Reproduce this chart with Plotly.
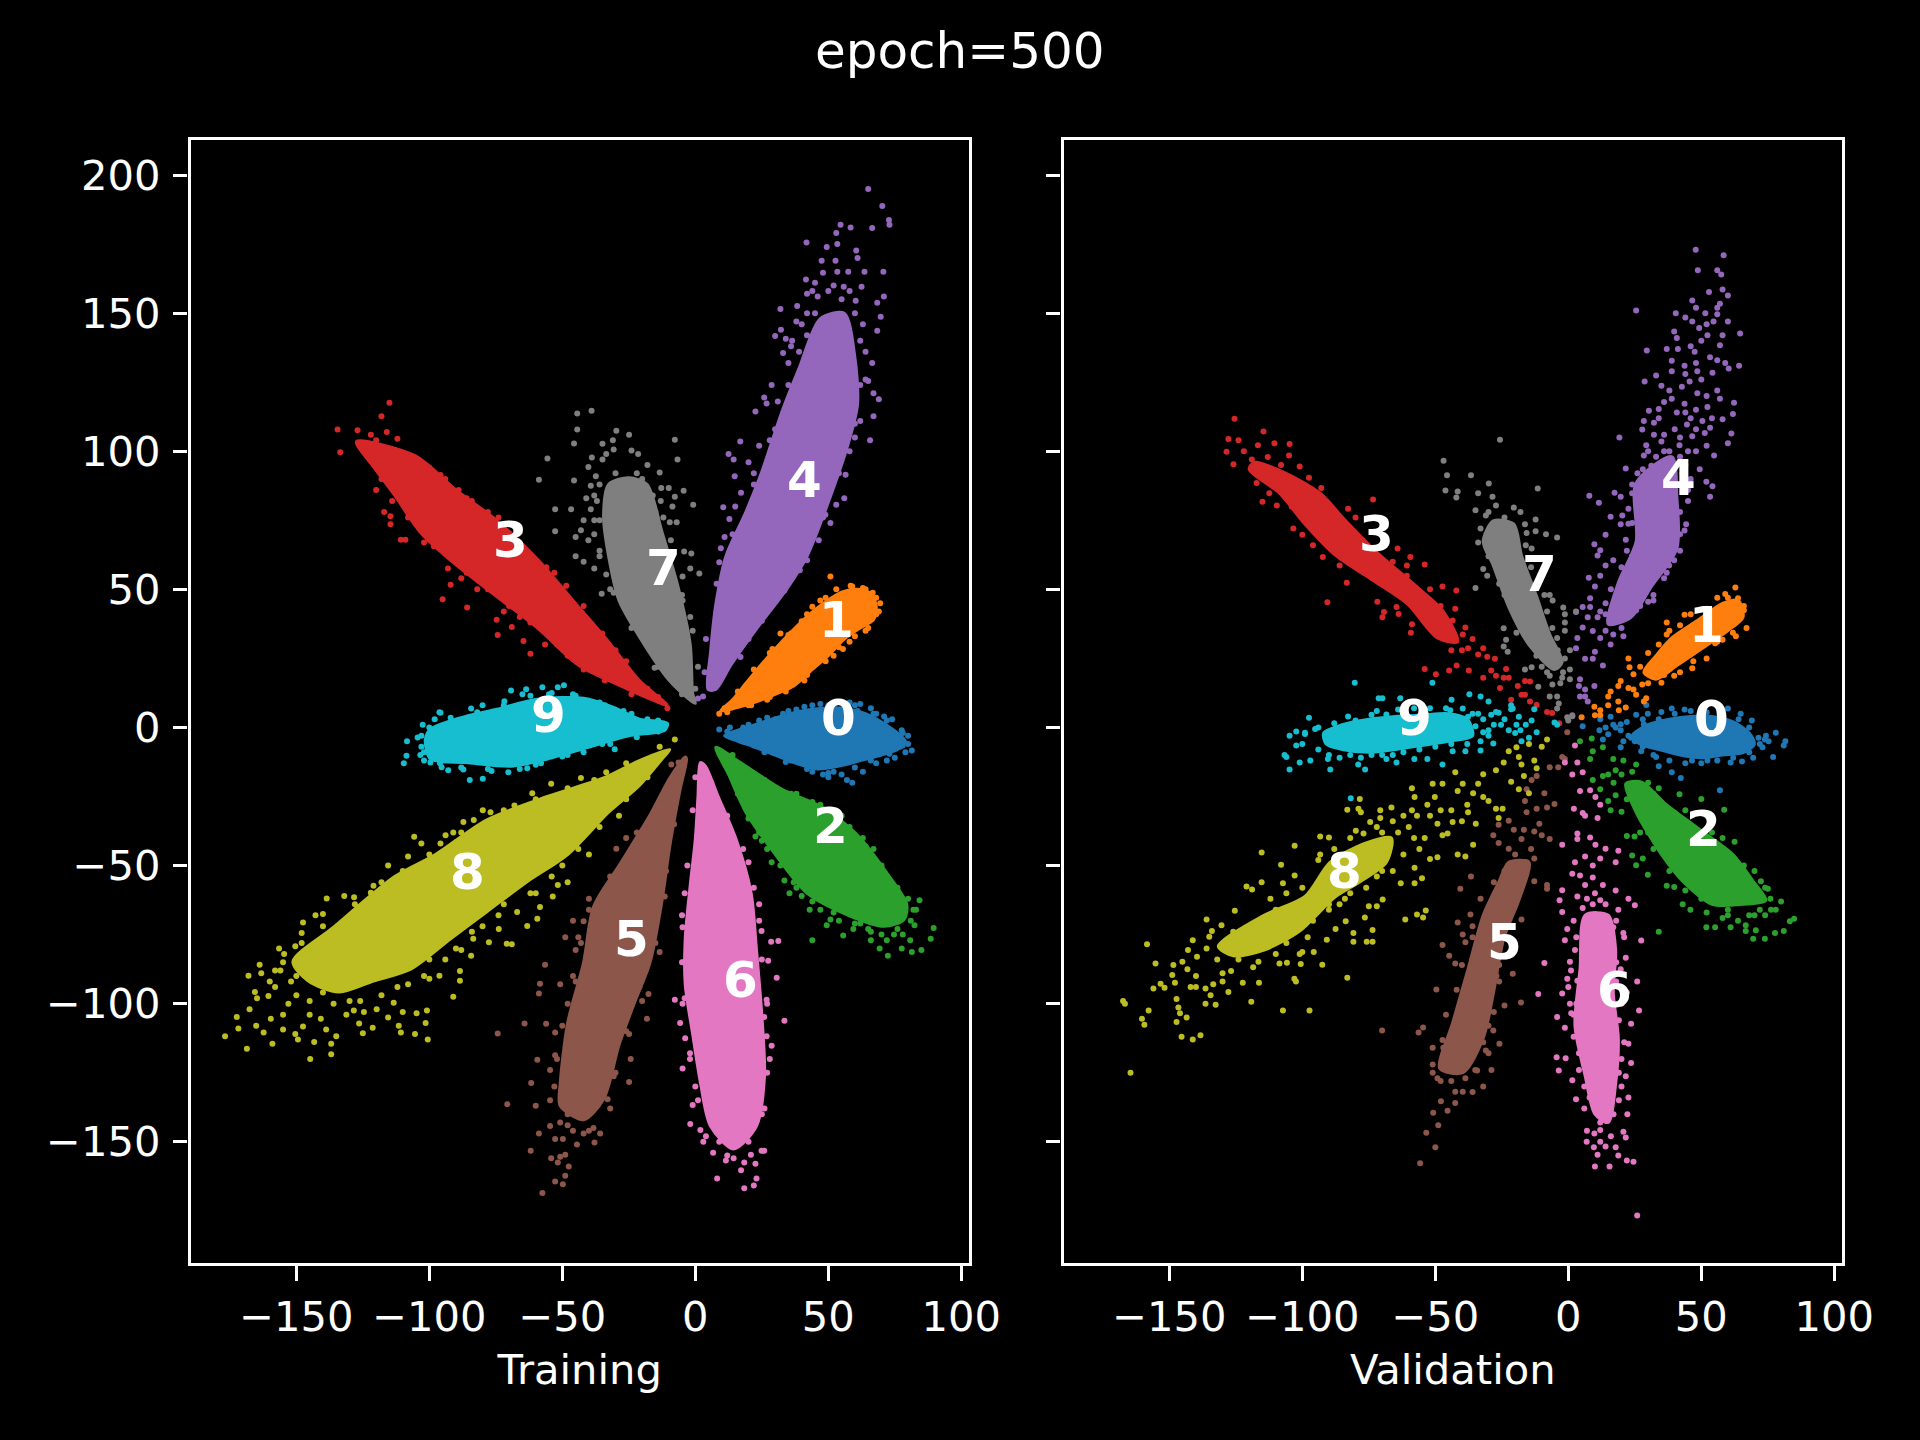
import plotly.graph_objects as go

class_labels = ["0","1","2","3","4","5","6","7","8","9"]
colors = ["#1f77b4","#ff7f0e","#2ca02c","#d62728","#9467bd","#8c564b","#e377c2","#7f7f7f","#bcbd22","#17becf"]
x_ticks = [-150,-100,-50,0,50,100]
x_tick_text = ["\u2212150","\u2212100","\u221250","0","50","100"]
y_ticks = [-150,-100,-50,0,50,100,150,200]
y_tick_text = ["\u2212150","\u2212100","\u221250","0","50","100","150","200"]
x_range = [-189.8,102.9]
y_range = [-193.9,212.7]

label_pos_train = [(54,3.5),(53,39),(50.7,-35.5),(-69.6,67.8),(41,89.6),(-24,-76.7),(17,-91.4),(-12,57.6),(-85.7,-52.3),(-55.3,4.4)]
label_pos_val = [(54,3),(52,37),(51,-36.8),(-72,70),(41.5,90.5),(-24,-77.6),(17.5,-95),(-11,55.4),(-84.3,-51.9),(-58,3.5)]

# ---------- Training: dense body outline and loose points ----------
train_0_core = [(11,-3),(16,-1),(24,1.5),(32,4),(40,6),(48,7),(56,7),(64,5),(70,2),(76,-2),(79,-5),(76,-8),(70,-10),(62,-12),(54,-14),(46,-15),(38,-13),(30,-10),(22,-7),(16,-5)]
train_0_pts = [(9,-0.7),(81.4,-8.3),(59,-20),(77.6,-1),(67,5),(61,6),(50,-18),(48,-17),(55,-17),(57,-19),(63,-16),(68,-13),(72,-12),(75,-11),(79,-9),(78,-6.5),(80,-3),(78,-2),(74,3),(71,4),(66,7),(62,8.5),(58,9),(53,9),(47,8.5),(41,7.5),(35,6),(27,3.5),(20,1),(13,0),(42,-15),(34,-12.5),(26,-9),(52,-16),(12,-1.5),(18,0),(22,-6.5),(30,3),(36,-12),(44,-16),(50,-16.5),(60,-14.5),(66,-12),(73,-9.5),(77,-7),(80,-6),(72,2.5),(68,5),(60,8),(50,8),(44,8),(38,6.5),(33,5),(24,2.5),(18,-4.5)]

train_1_core = [(9.5,6),(14,10),(19,16),(25,23),(31,29.5),(37,35.5),(43,41),(49,45.5),(55,49),(61,50),(66,48.5),(68,44),(67,39),(62,36),(56,32),(50,26),(44,21),(37,15),(30,12),(22,9),(15,7)]
train_1_pts = [(50.8,54.7),(49,47),(44,43.7),(32,34),(29,28.4),(69.5,45),(66.7,48.8),(58.4,51.3),(63,50.5),(55.5,28.4),(49,24),(41,17),(34,13),(27,10),(20,8),(12,5.5),(9,5),(16,13),(22,21),(28,27),(35,33.5),(40,38.5),(68,41),(64,35),(58,31),(52,26),(11,7),(17,11),(24,20),(30,26),(36,34),(42,41),(47,46),(53,50),(59,51),(64,50),(68,47),(69,42),(65,36),(60,33),(54,29),(47,25),(42,19),(35,15),(28,11),(21,8)]

train_2_core = [(7.7,-7.2),(17,-12.7),(32.6,-22.4),(48,-29),(61,-39),(73,-54),(79.5,-64),(78.5,-69.5),(71,-72),(57.5,-68),(42,-60),(29,-44.6),(19,-30.7),(12.5,-17)]
train_2_pts = [(89.6,-72.6),(88.5,-76.5),(84.3,-62.6),(85,-80.6),(81.4,-81.3),(72.4,-82.7),(69.3,-80),(66,-77),(44,-77),(55.6,-75.3),(59.4,-73),(49.4,-71.6),(50.8,-69.5),(43,-66),(35.4,-60),(33.5,-55.4),(28.7,-48.8),(22.6,-39.5),(67,-44),(82.4,-71.6),(80.8,-77),(77.6,-80),(74.7,-75),(83,-66),(81,-70),(76,-73),(70,-75),(65,-73),(62,-71),(54,-70),(47,-66),(40,-61),(38,-58),(25,-41),(63,-40),(55,-32),(47,-28),(38,-24),(10,-9),(14,-10),(20,-16),(26,-19),(36,-24),(44,-27),(52,-31),(58,-36),(64,-43),(70,-50),(76,-58),(80,-62),(82,-66),(16,-24),(20,-33),(24,-38),(27,-44),(32,-50),(37,-56),(44,-63),(52,-67),(60,-71),(66,-74),(72,-77),(78,-75)]

train_3_core = [(-127.4,103.5),(-105.4,98.4),(-90,86),(-74.7,75),(-59,60.5),(-46,46),(-32.6,31),(-21,17),(-10.5,8),(-15,9.5),(-28.7,15.3),(-44,22.6),(-59,35.7),(-76.6,48.8),(-92,60.5),(-103.4,70.7),(-113,84),(-120.7,94)]
train_3_pts = [(-115,117.6),(-118,112.7),(-134.5,107.9),(-133.5,99.6),(-127,107.6),(-116,107),(-112,104.5),(-120,86),(-117,78),(-114.6,76.5),(-114.6,73.6),(-110.7,68),(-109,68),(-102,67),(-98.3,65.6),(-93,57.6),(-92,51.7),(-95,46.4),(-85.8,43.4),(-74.3,33.5),(-74.7,39),(-69,36.4),(-64.6,31.3),(-62,26.7),(-56.5,30),(-48.5,51.3),(-59.4,59.8),(-74,76),(-89,86),(-95.8,91.4),(-10.5,7),(-122,106),(-124,103),(-120,104),(-108,97),(-102,94),(-84,82),(-78,78),(-68,68),(-53,56),(-42,44),(-30,28),(-88,54),(-82,50),(-72,42),(-66,40),(-54,33),(-48,26),(-42,21),(-36,20),(-125,102),(-121,100),(-116,101),(-110,99),(-100,94),(-94,90),(-86,83),(-80,77),(-72,72),(-64,64),(-56,58),(-50,50),(-40,38),(-35,34),(-26,24),(-18,14),(-14,11),(-118,90),(-114,82),(-108,76),(-100,68),(-94,63),(-86,56),(-78,50),(-70,44),(-62,38),(-52,30),(-46,25),(-34,17),(-24,12)]

train_4_core = [(4.8,13.8),(5.7,27),(7.7,44.5),(11.5,62),(19,78),(25,92.6),(32.6,114.4),(39,130),(47,148),(56,150),(60,134),(61,117),(57.5,102.8),(49.8,81),(42,62),(34.5,50.3),(23,35.7),(13.4,22.6),(7.7,13.8)]
train_4_pts = [(65,195),(70.3,188.8),(72.8,183.7),(73,182),(66.5,180.8),(58.4,181),(54.6,182),(41.8,175.6),(53,179),(53.4,175),(49.4,174),(60.5,172.7),(61,170),(47.5,169),(52.7,169),(63.6,165),(70.7,165),(48,164.6),(57.5,165),(53.4,165),(41.6,162.2),(45,161),(55.8,159.6),(62.5,159.6),(70.9,156),(68.4,153.8),(60.3,154.5),(42,157),(46,156),(38.3,152.6),(32,151.5),(69.7,148.7),(68.4,143.6),(32.2,144),(30,141.7),(34,140.7),(36.4,140),(33,135.6),(35,132),(64,136),(66.5,132),(65,125.4),(67,121),(69,118.8),(67,112.7),(65.7,104),(25.9,119.5),(28.7,124),(26.8,117.3),(22.6,114.4),(16.9,103.5),(12.5,99),(14.4,97),(14.8,91),(17.2,85),(10.5,79.7),(12.8,75.5),(11,69),(9.6,64.9),(9,59.8),(56.5,91.5),(56,83),(53,80.6),(48.9,77),(50.8,74),(46.4,67.8),(42,60.5),(39.3,56.9),(33.5,49.6),(25,38.6),(17,25.5),(2.9,11.2),(1,10.5),(50,158),(55,155),(60,150),(63,146),(42,150),(38,147),(64,126),(62,111),(60,105),(30,108),(24,102),(20,96),(22,88),(15,80),(44,158),(52,160),(58,158),(40,146),(36,138),(62,140),(62,124),(60,110),(28,104),(22,92),(14,70),(8,52),(4,32),(3.5,20),(6,14),(38,70),(44,68),(48,76),(54,92),(58,100),(28,45),(20,32),(42,142),(45,150),(39,136),(35,124),(31,118)]

train_5_core = [(-3.8,-10.7),(-9.6,-18.3),(-17.2,-32),(-28.7,-50),(-38.3,-65),(-42,-85),(-48,-107),(-50.8,-129),(-50.8,-137),(-42,-142),(-34.5,-134.6),(-28.7,-115),(-23,-100),(-17,-85),(-12.5,-62.6),(-9.6,-43),(-5.7,-22.4),(-3.3,-11.4)]
train_5_pts = [(-74.3,-110.8),(-70.7,-136.4),(-57.5,-168.6),(-49.8,-165.4),(-52.7,-164.4),(-48.9,-162.3),(-47.6,-159),(-61.9,-153.3),(-54.2,-156),(-50.8,-155.4),(-51.7,-157.5),(-48.9,-154.7),(-52.7,-149),(-49.8,-149),(-44.5,-151),(-37.9,-150.3),(-58.8,-147),(-54.6,-144.3),(-50.8,-143),(-35.8,-147),(-38.3,-145),(-60,-137),(-54.6,-135),(-61.7,-128.7),(-59.4,-120.3),(-54.6,-124),(-52.7,-118.7),(-64.2,-107.2),(-56.1,-107.3),(-52.7,-110.4),(-58.8,-96.3),(-58.4,-92.8),(-56.5,-85.9),(-50.8,-93),(-48.9,-76),(-46,-70),(-42,-70.2),(-45,-80.6),(-29.7,-43.9),(-18.2,-105.5),(-24.9,-128.4),(-24.3,-120),(-30.7,-126.3),(-33,-134.6),(-24.9,-111),(-20,-99),(-17.6,-96.5),(-13.4,-81.3),(-11.5,-61.2),(-6.3,-12.7),(-9,-13.4),(-46,-146),(-42,-147),(-48,-140),(-46,-90),(-44,-76),(-48,-100),(-40,-66),(-26,-40),(-7,-16),(-13,-26),(-22,-38),(-32,-54),(-40,-62),(-43,-78),(-45,-92),(-50,-108),(-52,-120),(-53,-130),(-48,-144),(-40,-146),(-32,-138),(-30,-125),(-26,-110),(-21,-94),(-15,-78),(-11,-52),(-8,-35)]

train_6_core = [(1.9,-12.7),(1,-25),(0,-40.4),(-1.9,-57),(-3.8,-76.5),(-3.8,-93),(-1,-111),(2,-129),(5.7,-144.3),(14.4,-152.6),(23,-144.3),(26,-126.3),(25,-104),(23,-80.6),(21,-60),(15.3,-40.4),(8.6,-25),(3.8,-14)]
train_6_pts = [(18.4,-166.8),(22,-165.8),(23,-163.3),(8.2,-163.3),(17.2,-160.3),(22.6,-158),(24.9,-153.3),(25.9,-153.3),(11.5,-156.8),(6.7,-154),(14.4,-156),(18.4,-157.5),(20.9,-154.7),(-1.9,-143.6),(1.9,-145.7),(-1,-136.7),(-4.8,-123.5),(28.7,-115.2),(33.5,-106.2),(26.8,-111.8),(25.9,-104.8),(30.6,-90.6),(26.8,-98.6),(27.4,-84.5),(31.2,-77.3),(28.5,-77.6),(24.9,-73.7),(20,-48.8),(-7.7,-98.6),(-4.8,-100),(-5.7,-107),(-3.8,-112.5),(-4.8,-72.3),(24,-64),(3,-150),(9,-150),(26,-138),(27,-125),(-2,-120),(0,-130),(-4.5,-85),(-4,-60),(0,-18),(-1,-30),(-3,-50),(-5,-68),(-5,-85),(-4,-98),(-2,-118),(1,-135),(4,-148),(12,-155),(20,-150),(25,-140),(28,-120),(27,-100),(25,-84),(24,-70),(22,-58),(18,-44),(12,-32),(6,-20)]

train_7_core = [(0,8.7),(-9.6,16.8),(-21,32.8),(-28.7,46),(-32.6,62),(-34.5,76.5),(-32.6,88),(-25,90.4),(-18.2,88),(-12.5,70.7),(-6.7,51.7),(-1.9,30),(-1,12.4)]
train_7_pts = [(-39,114.7),(-44.4,113.7),(-44.4,107.9),(-29.7,107.4),(-24.9,106),(-45.6,102.8),(-31,104),(-7.7,104.2),(-34.9,102.7),(-30.7,100.6),(-24,100.3),(-21.5,99),(-55.6,97.4),(-6.7,97),(-33.5,99),(-18,95),(-38.9,97.7),(-40.2,94.3),(-34.9,97),(-58.8,89.7),(-45.6,89.4),(-13.4,92.3),(-39.3,87.5),(-20,90),(-37.4,91),(-12.8,86.7),(-10,86.7),(-4.4,85.7),(-7.7,83.5),(-0.8,80.6),(-52.7,79),(-46.7,79),(-39.3,79),(-8.6,80),(-9.6,74.3),(-7,74.3),(-52.7,71),(-43,71.4),(-45,69),(-40.2,67.8),(-45,62),(-42,60),(-38,57.6),(-33.5,55.4),(-35.2,48.4),(-30.7,48.8),(-9.2,67.8),(-1.5,63),(-4.2,63.7),(-1.9,57.6),(1.5,55.7),(-4.8,54.7),(-4.8,46),(-1.9,40),(-15.3,21.6),(-38,84),(-36,75),(-42,75),(-38,70),(-36,64),(-37,82),(-41,83),(-15,78),(-13,82),(-5,12),(-14,22),(-24,36),(-32,50),(-36,62),(-38,75),(-36,88),(-30,92),(-22,92),(-16,84),(-12,76),(-9,62),(-5,48),(-1,35),(1,22),(0,14)]

train_8_core = [(-9.6,-8),(-21,-12),(-34.5,-18.3),(-55.6,-25),(-78.5,-33.5),(-97.7,-46),(-113,-54),(-136,-72.3),(-151.3,-84.8),(-145.6,-91.7),(-134,-95.8),(-120.7,-91.7),(-107,-87.5),(-92,-76.5),(-78.5,-66.8),(-63,-55.7),(-48,-46),(-32.6,-30.7),(-21,-21),(-12.5,-11.4)]
train_8_pts = [(-176.8,-111.8),(-172.4,-104.8),(-171.8,-109),(-168.6,-116.3),(-165.1,-108),(-162.3,-110.4),(-159,-114.5),(-159.6,-105.5),(-167.6,-102),(-164.8,-98),(-160.5,-97.2),(-165.6,-95.8),(-168,-89.9),(-163.8,-85.9),(-163.2,-89),(-156.5,-80),(-147.5,-70.6),(-148,-74.4),(-154.6,-82),(-150.4,-79.2),(-142.8,-68),(-140,-67.5),(-138.6,-61.9),(-132,-61),(-128.3,-61.5),(-122,-59.8),(-121,-57.3),(-115.5,-50),(-108,-46.7),(-105.7,-39.6),(-103,-42),(-95.8,-42),(-93.9,-39),(-91,-38),(-87.2,-34.2),(-83.3,-33.5),(-79.9,-30),(-77,-30.7),(-68,-28.3),(-61.3,-23.8),(-54.2,-20.4),(-43,-18.3),(-33.5,-16.2),(-7.7,-4.4),(-13.4,-7),(-144.8,-120),(-136.9,-118.3),(-143.3,-113.9),(-136.9,-114.5),(-135,-111.8),(-150.4,-111),(-149.4,-113),(-147.5,-108.3),(-138.8,-109.4),(-125,-110.7),(-121.3,-108.7),(-126.4,-107.2),(-111.5,-108),(-110.7,-110.4),(-105.4,-111),(-100.6,-113),(-101.4,-107),(-104.8,-103.5),(-100.9,-102.5),(-110,-103),(-115.5,-105),(-119.8,-102),(-124.6,-103),(-128.4,-102.5),(-131.2,-104),(-140.8,-105.5),(-155,-109.4),(-155,-104),(-113.4,-99.7),(-91,-97.5),(-96.2,-89.9),(-100,-91),(-88.5,-91.7),(-88.5,-88.2),(-84.3,-82.7),(-88,-80.6),(-70.9,-78.3),(-77.6,-77.8),(-69,-78.5),(-63.2,-71.9),(-59.4,-69.3),(-58.4,-65),(-53.6,-61.2),(-67,-66.8),(-73.9,-73),(-83.5,-76.5),(-28.7,-32),(-40,-46),(-48,-56),(-51.7,-57),(-152,-92),(-156,-88),(-150,-97),(-145,-99),(-140,-96),(-130,-99),(-118,-97),(-108,-93),(-100,-84),(-90,-80),(-80,-72),(-72,-64),(-60,-60),(-50,-50),(-155,-85),(-158,-94),(-153,-100),(-145,-104),(-158,-88),(-148,-78),(-140,-72),(-128,-64),(-118,-56),(-110,-52),(-100,-46),(-88,-38),(-72,-30),(-60,-26),(-48,-22),(-38,-19),(-26,-13),(-136,-100),(-126,-99),(-112,-94),(-102,-90),(-94,-84),(-84,-74),(-74,-68),(-62,-60),(-54,-54),(-44,-44),(-36,-36),(-26,-26),(-18,-18),(-160,-92),(-150,-90)]

train_9_core = [(-10.5,1.5),(-21,3),(-30.7,7.3),(-42,10.6),(-59.4,10.2),(-74.7,6.6),(-90,3),(-99.6,-0.7),(-101.5,-4.4),(-99.6,-11.4),(-86.2,-12.7),(-69,-14),(-55.6,-11.4),(-40.2,-7.2),(-25,-3),(-11.5,-1)]
train_9_pts = [(-49.4,15.3),(-51.7,14.6),(-57.5,14.6),(-63.6,13.8),(-69.3,13.4),(-71.8,9.5),(-80,8),(-84.3,6.9),(-96.2,5.5),(-98,3),(-102.5,1),(-104.4,-3.6),(-108.4,-5),(-108.6,-10.2),(-109.6,-13),(-103.4,-10),(-99.6,-12.7),(-95.4,-14.4),(-92.9,-15.5),(-84.8,-19),(-79.9,-18.6),(-76.6,-15.8),(-70.3,-16.2),(-63.2,-14.8),(-30.3,-7.9),(-87.2,-15.2),(-95.8,5.3),(-65,12),(-55,12),(-45,11.5),(-36,9),(-27,6),(-18,3),(-103,-7),(-102,-12),(-60,-13.5),(-48,-10),(-35,-6),(-14,2.5),(-24,5),(-34,8),(-46,12),(-54,12.5),(-62,11.5),(-72,8),(-82,5.5),(-92,3.5),(-100,0),(-103,-3),(-102,-9),(-96,-13),(-88,-14.5),(-78,-15),(-66,-15),(-58,-13),(-50,-10.5),(-42,-9),(-32,-6),(-22,-3.5),(-14,-1.5)]

# ---------- Validation: body outline and loose points ----------
val_0_core = [(24,-3),(30,1),(38,3),(46,4),(54,4),(62,2),(68,-2),(70,-6),(66,-9),(58,-10),(50,-11),(42,-10),(34,-8),(27,-6)]
val_0_pts = [(81.6,-5),(78,-1.9),(74.3,-3),(71.5,-3.7),(75.3,-5),(81,-6.5),(77,-10.7),(73,-7.2),(73.9,-4.4),(69.5,-11),(65.3,-12.3),(61,-12.7),(57,-22.7),(52.3,-12),(46.5,-12),(42.3,-18.3),(38.9,-16.2),(34,-14),(33,-10.7),(27.4,-8.6),(19.7,-7.2),(13,-4.4),(11.7,-1),(16.9,1),(19.7,-1),(22.6,-3),(5.4,0.4),(15.9,3.9),(25.5,4.6),(29.3,8.1),(29.9,5),(28.4,1.2),(35,5.6),(38.9,6.9),(43.7,6.5),(60,6.9),(64.8,5),(69,2.5),(19.7,1.2),(17.8,0),(12,3),(14,0),(15,-2.5),(23.6,-3.7),(20.7,-5),(22,2),(25,-5),(28,-7),(32,-10),(38,-12),(44,-13),(50,-13),(56,-12),(62,-11),(68,-9),(72,-6),(68,0),(64,3),(58,5),(52,5.5),(46,6),(40,5),(34,3),(28,3)]

val_1_core = [(28.4,20),(33,26),(38.9,32.4),(48.5,38.7),(58,44.9),(63.8,46),(65.7,40),(59.9,35),(50.4,28.7),(40.8,22.4),(33,17.5)]
val_1_pts = [(62.8,50.7),(59,48.3),(63.8,46.8),(66,42.4),(61.9,34.3),(58,31.8),(55.2,30.5),(43.7,40.8),(37,38),(37,33.7),(46.6,21.4),(39.8,18.7),(35,16.2),(24.5,19.3),(22.6,25),(23,21.8),(29.3,10.6),(28.4,9.4),(24.5,13.7),(19.7,16.8),(22.6,14.3),(18.8,15),(15,11.2),(15.9,13),(12,6.2),(18.8,9.4),(15,8),(9.8,7.5),(21.6,7.2),(19,6.2),(12,4.4),(10,4.4),(5,3.7),(27.8,15.6),(25.5,11.8),(30,27),(34,30),(38,35),(42,37),(46,41),(52,43),(56,47),(60,47),(66,44),(67,36),(63,33),(56,31),(52,25),(47,24),(42,20),(36,19),(30,16),(27,22)]

val_2_core = [(21.6,-20.4),(27.4,-19.7),(37,-28),(48.5,-36.3),(61.9,-46),(69.5,-55.7),(74.3,-62.6),(65.7,-64),(54,-64),(43,-55.7),(35,-46),(25.5,-30.7)]
val_2_pts = [(4.4,-5),(8.8,-4),(9.2,-8.6),(13,-7.2),(8.2,-11.4),(16.9,-11.4),(20.7,-12),(25.5,-13.4),(17.8,-15.5),(15,-17),(13,-17.6),(9.2,-19),(12,-22.4),(15,-26.6),(17.8,-24.5),(15.9,-30),(20,-30.5),(22,-39.3),(24.9,-39.5),(24,-46.4),(25.5,-49.9),(28,-47.4),(29.9,-53.3),(41.8,-24.2),(50,-25.9),(58.6,-29.8),(62.5,-41.4),(37,-57.3),(39.8,-57.8),(43,-64),(45.9,-66),(34,-74),(51.9,-72.3),(55.2,-72.3),(63.8,-70),(66.7,-71.6),(70.5,-73.4),(69.5,-76.5),(73.9,-76.5),(77.7,-74.4),(81,-73.7),(84.9,-69.3),(83.3,-70.2),(80,-63),(76.2,-66),(72.4,-55.7),(66.7,-73.7),(60,-66),(69.5,-61.2),(75,-58.4),(49.4,-57),(61,-72.3),(76,-62),(72,-66),(68,-68),(60,-68),(52,-67),(30,-27),(32,-24),(20,-17),(24,-16),(30,-20),(34,-22),(40,-31),(44,-30),(54,-38),(58,-40),(66,-50),(70,-52),(74,-58),(78,-66),(74,-68),(70,-68),(58,-69),(50,-62),(44,-59),(38,-52),(32,-44),(30,-38),(27,-38),(22,-26),(17,-20),(72,-60)]

val_3_core = [(-118,96),(-106.7,92.3),(-93.3,84.8),(-83.7,74.8),(-72.2,63.6),(-57,51),(-47.3,42.4),(-41.6,31),(-49.2,32.4),(-60.7,44.9),(-74,53.6),(-87.5,62.3),(-99,73.6),(-108.6,84.8),(-120,93.5)]
val_3_pts = [(-125.5,111.8),(-114.6,107.2),(-127.8,104.4),(-124,104),(-128.5,99.8),(-125.9,95.3),(-116.7,102.2),(-110.5,102.9),(-104.8,102.6),(-113,97.9),(-105,98.5),(-101,94.5),(-97.5,90.4),(-92.9,86.7),(-115,81.7),(-109.6,80.4),(-117.2,88.5),(-112.4,84.8),(-103.4,72),(-100,69.8),(-92.3,61.7),(-86,58.6),(-83.3,52.4),(-90.6,45.3),(-73.4,82.5),(-82.8,79.2),(-64.2,64.8),(-59.4,61.7),(-54,59),(-60.7,58.6),(-60.7,54.9),(-47.3,51),(-42.1,49.6),(-71.8,45.5),(-69.3,41.8),(-64.6,43.6),(-69.9,39.9),(-63.8,41.1),(-58.8,37.4),(-59.2,34.3),(-42.5,43),(-43.5,38.7),(-38.7,36.2),(-39.7,33.7),(-37.7,28.7),(-32,28.7),(-30.5,25.6),(-27.6,24.9),(-33.9,26.4),(-54,21.2),(-49.8,19.3),(-44.8,20.6),(-42,22.4),(-37.4,20.6),(-32,18),(-29,20.6),(-27.2,18.7),(-23.4,21.2),(-24.3,18),(-22.4,18),(-25.7,14.3),(-16.3,16.8),(-14.4,16.6),(-19,15),(-17.6,11.8),(-21.5,10),(-16.3,11.8),(-14.4,9.4),(-11.9,8.1),(-8,5.6),(-6.1,5.2),(-3.4,1.5),(-122,100),(-119,97),(-116,92),(-112,92),(-108,95),(-104,89),(-100,88),(-96,83),(-104,80),(-100,76),(-92,72),(-96,66),(-88,66),(-80,76),(-78,68),(-76,58),(-72,54),(-66,52),(-66,60),(-60,50),(-56,46),(-52,50),(-48,44),(-52,38),(-46,36),(-44,28),(-40,28),(-36,32)]

val_4_core = [(15,37.4),(18.8,52.4),(25.5,67.3),(25.5,88.5),(39,98),(40.8,83.5),(40.8,64.8),(31.2,51),(23.6,39.9)]
val_4_pts = [(47.9,173),(58.4,171),(48.7,165.5),(56,165.5),(57.5,164),(52.9,157.7),(58,158.6),(60,156.4),(46.6,154.6),(57,153.4),(56,152),(25.5,151),(48,152),(40.4,150),(51.5,150),(44,148.4),(56,149.6),(46.6,147),(54.6,147),(60,147),(49.2,144.6),(39.8,143.4),(64.6,142.6),(58,142),(52.3,142),(50,140),(40.8,141),(57,138.4),(29.5,136.5),(37,137),(41.2,137),(47.5,136),(53.3,134),(38.9,132.8),(59,132),(64.2,131),(60.3,130),(43.7,131),(48.5,129),(33,127.4),(28.7,125.3),(38.9,129),(54.2,128.4),(45.6,125.3),(42.7,123.4),(35,123.7),(56,122),(57,119),(48.5,121),(62.3,117.6),(36,117.8),(38.9,119),(43.7,117.2),(52.3,116),(61.9,113.5),(30.3,114.7),(34,115.3),(40.8,114),(50.4,111),(58,111.6),(28.4,111),(27.8,107.9),(32.2,110.3),(44.6,109.7),(53.3,108.5),(61.3,106.4),(32.2,106),(19.2,105),(46.6,105.4),(51.3,106.6),(29.3,102.2),(35,103.5),(41.8,102.2),(60,102.9),(28.4,98.5),(54.8,98.5),(21.6,93.8),(28,93.5),(31.2,94.8),(49.4,93.5),(51.9,89),(54.2,87.3),(53.3,83.5),(17.4,85),(19.7,83.5),(24,84.8),(7.9,83.9),(11.5,81.4),(15.9,76.3),(20.3,76.7),(22.6,79.2),(19.7,73.6),(22.6,73.8),(44.3,73.6),(43.7,71.3),(14,69.8),(21.6,68),(9.8,66.3),(12,64.2),(11,62.3),(39.8,60.5),(37.9,58.6),(16.9,60.5),(14,58.6),(37,56),(7.7,54.2),(12,54.9),(10,51),(8.2,46.8),(32,46),(30,45.5),(5.4,43.6),(2.9,41.8),(7.3,39.9),(11,39.9),(8.2,43.6),(25.5,42.4),(5.4,36.2),(9.2,34.9),(16.9,33.7),(20.7,33),(12,32.4),(3.4,32.4),(2.9,28.7),(6.3,24.9),(10,27.4),(13,22.4),(9.2,24.9),(15.9,30),(4.4,17.5),(4,15),(6.3,13.7),(9.8,15),(6.3,11.2),(4.4,11.2),(7.3,9.4),(1.5,4.4),(20,44),(14,45),(12,42),(16,50),(20,58),(24,62),(34,62),(38,66),(42,70),(24,74),(26,80),(42,78),(45,86),(30,88),(34,92),(38,100),(44,95),(36,106),(40,108),(34,112),(44,114),(38,122),(44,128),(50,126),(52,120),(54,112),(48,115),(42,105),(48,100),(52,102),(46,138),(52,146),(48,132),(56,133),(30,100),(33,98),(26,56),(18,40),(14,35),(20,36),(17,38),(14,41),(22,50),(24,56),(22,64),(29,72),(24,88),(26,92),(43,92),(46,90),(45,82),(42,64),(36,54),(32,48),(27,44),(45,100),(42,98),(36,100),(46,112),(48,108)]

val_5_core = [(-22.4,-48.8),(-14.8,-48.8),(-18.6,-62.6),(-24.3,-76.5),(-28.2,-96.4),(-32,-112.5),(-39.7,-125),(-48.3,-123.5),(-43.5,-107),(-37.7,-87.5),(-32,-68),(-26,-55.7)]
val_5_pts = [(-55.7,-157.8),(-50,-152),(-53.4,-146.7),(-48.9,-144),(-50.8,-139.5),(-45.4,-138.8),(-47.9,-135.3),(-42.5,-136),(-39.7,-131.9),(-42.5,-131.9),(-32,-130),(-49.2,-127),(-38.7,-127),(-34.3,-124.2),(-28.9,-124),(-51,-122),(-51,-116),(-47.3,-113.2),(-70,-109.7),(-56.3,-110.4),(-54.6,-108.6),(-25.9,-114.5),(-31,-117),(-28.2,-109.7),(-24,-100.7),(-17.8,-99.6),(-49.6,-94.9),(-42.5,-85.5),(-47.3,-78.8),(-44.8,-82.7),(-41.6,-70.6),(-36.8,-67.7),(-40.6,-58.4),(-36.6,-54),(-39.7,-75),(-38.7,-77.8),(-20.9,-89.2),(-22.4,-82.7),(-17.6,-69.5),(-12.8,-55.7),(-8,-58.4),(-8,-57),(-12.8,-47.4),(-10,-39),(-7,-40.4),(-12.8,-37.7),(-10.9,-34.9),(-16.7,-37),(-20.5,-37),(-26.2,-35.2),(-28.2,-39),(-22.4,-33.8),(-26.2,-41.8),(-22.4,-43.9),(-17.6,-40.4),(-15.7,-30.7),(-11.9,-29.4),(-5.2,-27.7),(-8,-29),(-16.3,-26.6),(-9,-23.8),(-15.7,-22.4),(-13.8,-19),(-11.9,-17.6),(-7,-14.4),(-3.8,-14.4),(-2.3,-10.7),(-0.4,-1.7),(-1.3,-11.4),(-26,-62),(-28,-56),(-24,-52),(-20,-46),(-16,-50),(-14,-44),(-18,-56),(-30,-70),(-26,-70),(-36,-76),(-36,-84),(-30,-88),(-26,-86),(-34,-96),(-26,-92),(-40,-100),(-30,-102),(-44,-112),(-30,-108),(-36,-116),(-44,-120),(-38,-122),(-30,-118),(-48,-128),(-44,-128),(-36,-132),(-30,-72),(-33,-62),(-36,-72),(-40,-86),(-42,-95),(-46,-104),(-47,-116),(-51,-125),(-24,-66),(-22,-72),(-26,-80),(-27,-90),(-28,-103),(-32,-114),(-35,-124)]

val_6_core = [(6.3,-68),(15,-68),(17.8,-80.6),(16.9,-95.8),(18.8,-112.5),(17.8,-129),(15,-143),(10,-140),(6.3,-126),(2.5,-108),(4.4,-87.5)]
val_6_pts = [(25.9,-176.7),(10,-159),(15.5,-159),(22,-156.8),(24.5,-157.2),(18.8,-155),(11,-154.7),(6.9,-150),(9.6,-152),(14,-151.7),(17.8,-152),(9.8,-147),(20.7,-146.4),(21.6,-148.5),(12,-145.7),(22.2,-140),(2.9,-134.6),(1.5,-127.7),(22.6,-134),(23.6,-121.5),(21.6,-126.3),(-4.4,-119.4),(-1,-119.8),(-3.6,-124.2),(22.6,-114.5),(23.6,-107.3),(26.6,-102.5),(25.9,-92),(-4.2,-104.8),(-1.3,-108.7),(1.1,-103.5),(-11.3,-96.5),(-9,-85.3),(-2.3,-96.3),(0.6,-100),(-0.4,-91),(0.6,-84.8),(3.4,-91.7),(27.4,-77.1),(21.6,-83.4),(19.7,-87.5),(2.5,-80.6),(-1.3,-77),(-0.4,-73),(20.7,-74.4),(16.9,-72.3),(-2.3,-66.8),(5.4,-65.4),(18.8,-66),(25,-64.4),(9.2,-64),(3.4,-61.2),(12,-62.6),(-3.3,-62.6),(22.6,-62),(17.8,-59),(13,-57),(6.3,-57),(1.5,-53),(4.4,-53.6),(-2.3,-58.9),(9.2,-54.3),(17.8,-48.8),(12,-47.4),(6.3,-46.7),(2.5,-48.8),(9.2,-50),(18.8,-44.6),(14,-43.9),(10.2,-42.5),(-2.3,-42.5),(3.4,-40.4),(8.2,-39.8),(3.4,-38.4),(11,-32.8),(5.4,-31),(2.1,-29.4),(6.3,-32),(12,-28),(10.2,-25.2),(8.2,-22.7),(4.4,-23),(1.5,-17),(5.4,-16.2),(3.4,-12.7),(-1.3,-12.7),(2.5,-6.5),(10,-60),(14,-64),(7,-62),(2,-70),(18,-70),(21,-76),(3,-76),(18,-85),(0,-94),(18,-92),(3,-100),(20,-100),(19,-106),(2,-112),(21,-114),(4,-118),(20,-120),(6,-130),(19,-125),(8,-134),(19,-135),(12,-143),(17,-140),(6,-138),(12,-150),(7,-146),(16,-148),(4,-124),(20,-130),(2,-104),(22,-96),(1,-88)]

val_7_core = [(-5.2,21),(-14.8,29.9),(-22.4,43.6),(-28.2,58.6),(-32,67.3),(-28.2,74.8),(-20.5,73.6),(-17.6,62.3),(-11.9,47.4),(-7,33.7),(-2.3,23.7)]
val_7_pts = [(-25.7,104.2),(-46.9,96.6),(-45.6,91.3),(-36.6,91.3),(-46.2,85.8),(-41.6,85.4),(-42.1,83.3),(-29.9,88.3),(-33.9,84.8),(-28.5,83.5),(-11.5,86.5),(-34.9,78.6),(-27.2,80.4),(-20.5,79.6),(-31,76.7),(-12.3,75.3),(-12.3,71),(-8.4,70),(-4.2,68.8),(-16.3,73.6),(-15.7,70.4),(-33.9,67),(-34.9,50.5),(-32,57.4),(-30.5,54.9),(-13.8,64.8),(-17.6,53.6),(-9,48),(-7,48),(-5.9,46),(-1.9,43.4),(2.9,42),(-1.3,41),(-1.3,38),(-24.3,35.9),(-23.4,31.8),(-24.3,29.3),(-22.8,27.4),(-19.5,34.3),(-1.3,35),(-4.2,32.4),(0.6,28),(-1.3,25),(-16.3,21),(-13.8,21.8),(-7,18.7),(0.6,21),(0.6,17.5),(-6,15.6),(-11.3,14.7),(-2.3,18),(-4.2,11.2),(-7,11.2),(-3.6,8.7),(-4.2,6.9),(-0.4,3.7),(1.5,4.1),(0,2.5),(-33,72),(-30,78),(-24,76),(-18,78),(-16,66),(-14,58),(-12,52),(-28,66),(-30,62),(-26,52),(-24,48),(-20,42),(-8,42),(-6,36),(-4,28),(-2,20),(-12,26),(-10,22),(-8,20),(-5,26),(-3,16),(-16,34),(-18,38),(-10,38)]

val_8_core = [(-131.6,-79.2),(-114.4,-68),(-99,-61.2),(-89.5,-48.8),(-76,-41.8),(-66.5,-40),(-68.4,-48.8),(-78,-55.7),(-87.5,-61.2),(-101,-73.7),(-114.4,-80.6),(-125.9,-82.7)]
val_8_pts = [(-164.6,-125),(-167.4,-99),(-166.7,-100),(-158.4,-78.5),(-155.2,-85.5),(-157.8,-102.5),(-160.3,-105.5),(-159.4,-107.6),(-147.3,-98.3),(-146.6,-101.4),(-146,-103.5),(-147.3,-106.6),(-143.5,-105),(-145.4,-112),(-141.2,-113),(-138.3,-111.4),(-156,-94.5),(-153.3,-92.8),(-151.8,-94.2),(-148.9,-89.6),(-147.9,-92.4),(-148.5,-86),(-145.1,-84.8),(-143.2,-87.5),(-142,-94),(-140,-94),(-136.4,-94.5),(-134.5,-97),(-136.4,-100),(-132.6,-100.4),(-133.5,-93),(-130,-89),(-126.8,-88.2),(-127.8,-95.8),(-122.4,-92.4),(-116.3,-92.4),(-119.2,-99.3),(-107.3,-102.5),(-97.3,-102.5),(-103,-91),(-102.4,-92),(-118.5,-86.8),(-116.5,-84.8),(-108.6,-85.5),(-105.8,-85.2),(-100.6,-85.6),(-92.5,-85.9),(-83.1,-90.6),(-100,-81.3),(-101,-82),(-95.7,-81.3),(-90.8,-76.9),(-80.8,-77.6),(-75.8,-77.6),(-73.6,-77.6),(-80.8,-74.4),(-73.6,-73.3),(-61.3,-69.5),(-56.9,-67.7),(-54.6,-68.8),(-53.6,-66.3),(-87.5,-73),(-83.7,-70.2),(-76.5,-68.8),(-75,-64.7),(-69.8,-62.3),(-72,-64.7),(-63,-56.4),(-57.8,-56.4),(-55,-54.6),(-49.2,-47),(-52,-47.6),(-57.8,-50.8),(-41.6,-46),(-38.7,-46.7),(-35.8,-42.5),(-47.3,-39),(-45.4,-38.4),(-34.8,-34.9),(-27.2,-29.4),(-26.2,-32.8),(-37.7,-30.7),(-43.5,-34.2),(-49.2,-34.9),(-58.8,-30),(-53,-28),(-56.9,-32),(-50.2,-25.2),(-58.8,-22),(-57.8,-25.2),(-51,-20.4),(-47.3,-20.4),(-39.7,-20.4),(-41.6,-23),(-32,-25.2),(-35.8,-23.8),(-30,-26.6),(-24.7,-29.4),(-42.5,-16.2),(-32,-16.9),(-27.2,-15.5),(-33.9,-20.4),(-21.5,-19.7),(-18.6,-22.4),(-14.8,-23.8),(-22.4,-8.6),(-18.6,-10.7),(-24.3,-12.7),(-12.8,-12),(-11.9,-14.8),(-17.6,-13.4),(-16.7,-17.6),(-19.5,-7.2),(-14.8,-6),(-10,-7),(-8,-4.4),(-78.4,-25.9),(-83.1,-29.8),(-78.9,-29.4),(-78,-30.7),(-70.7,-30),(-66.5,-29),(-70.7,-32.8),(-74.5,-34.2),(-79.9,-37.4),(-77,-38.4),(-93.3,-39.5),(-90,-39.8),(-102.9,-42.8),(-115.3,-45.3),(-93.3,-46),(-108,-49.7),(-102.9,-53.6),(-121,-57.6),(-115.3,-56),(-107.3,-56.4),(-118.9,-58.7),(-125.4,-66.4),(-136,-69.5),(-130.4,-71.6),(-141.2,-77),(-134,-73.7),(-135,-75.8),(-143,-80.6),(-139.6,-83),(-136,-80),(-132,-84),(-128,-78),(-124,-84),(-120,-76),(-110,-82),(-106,-78),(-110,-66),(-104,-66),(-98,-76),(-96,-64),(-92,-56),(-90,-64),(-86,-64),(-84,-50),(-82,-60),(-80,-46),(-76,-52),(-74,-42),(-72,-54),(-70,-38),(-68,-46),(-66,-52),(-64,-38),(-62,-46),(-60,-36),(-58,-40),(-56,-44),(-54,-40),(-52,-32),(-48,-30),(-44,-30),(-40,-34),(-38,-28),(-62,-32),(-66,-34),(-72,-36),(-140,-90),(-130,-92),(-126,-74),(-118,-72),(-112,-62),(-106,-60),(-100,-58),(-94,-48),(-88,-44),(-82,-40),(-96,-70),(-90,-66),(-84,-62),(-76,-58),(-70,-52)]

val_9_core = [(-92,-2),(-85,1),(-75,3),(-65,4),(-55,4.5),(-45,5),(-38,3),(-36,-3),(-45,-5),(-55,-6.5),(-65,-8),(-75,-9),(-85,-8),(-91,-6)]
val_9_pts = [(-80.3,16.2),(-51.1,16.2),(-71.3,10.6),(-69.9,10.6),(-63.2,10.6),(-43.9,10),(-37.2,12),(-33,11.2),(-30,9.4),(-21.5,8),(-20.9,6.9),(-27.2,5.6),(-33.9,5),(-39.7,6.9),(-44.4,6.2),(-97.5,3.5),(-82.8,4),(-74,4.6),(-68.4,4.7),(-104.8,-3),(-102.3,-1.5),(-99,-1.9),(-95.2,-0.6),(-106.7,-10),(-106,-10.7),(-104.8,-15.2),(-101,-12.7),(-97,-12),(-102.3,-6.5),(-99,-2.4),(-90.4,-11.4),(-89.5,-15.2),(-76.4,-15.2),(-79,-13.4),(-68.4,-11.4),(-64.6,-12.7),(-57.9,-11.4),(-53,-11.4),(-47.3,-13.4),(-38.7,-8.6),(-33,-8.3),(-43.5,-8.6),(-28.2,-5.8),(-32,-1.7),(-34.9,0.4),(-25.3,1),(-22.4,-1),(-19.5,1),(-17.6,-5),(-11.9,-1.7),(-14.8,-3.7),(-26.2,5.3),(-18.6,3.9),(-13.8,2.5),(-12.8,6.6),(-21.5,6.6),(-29,4.6),(-37.7,3.9),(-39.7,-3),(-45.4,-4.4),(-5.2,1.8),(-4.2,1),(-81.8,-25.6),(-100,-6),(-94,-8),(-90,-10),(-86,-11),(-82,-10),(-78,-11),(-74,-10),(-70,-10),(-66,-10),(-62,-9),(-56,-8),(-50,-7),(-44,-6),(-38,-6),(-33,-5),(-32,3),(-36,5),(-46,7),(-52,7),(-58,7),(-64,6.5),(-72,6),(-80,2.5),(-88,1.5),(-94,0),(-30,-3),(-28,1),(-30,-1),(-24,3),(-20,-2),(-18,-1),(-16,1)]

train_cores = [train_0_core,train_1_core,train_2_core,train_3_core,train_4_core,train_5_core,train_6_core,train_7_core,train_8_core,train_9_core]
train_pts = [train_0_pts,train_1_pts,train_2_pts,train_3_pts,train_4_pts,train_5_pts,train_6_pts,train_7_pts,train_8_pts,train_9_pts]
val_cores = [val_0_core,val_1_core,val_2_core,val_3_core,val_4_core,val_5_core,val_6_core,val_7_core,val_8_core,val_9_core]
val_pts = [val_0_pts,val_1_pts,val_2_pts,val_3_pts,val_4_pts,val_5_pts,val_6_pts,val_7_pts,val_8_pts,val_9_pts]

W, H = 1920, 1440
FONT = "DejaVu Sans"
fig = go.Figure()

def add_panel(cores, pts, labels, xa, ya):
    for c, core, p, name in zip(colors, cores, pts, class_labels):
        cx = [q[0] for q in core] + [core[0][0]]
        cy = [q[1] for q in core] + [core[0][1]]
        fig.add_trace(go.Scatter(x=cx, y=cy, mode="lines", fill="toself", fillcolor=c,
                                 line=dict(color=c, width=3, shape="spline", smoothing=0.8),
                                 xaxis=xa, yaxis=ya, showlegend=False, hoverinfo="skip", name=name))
        fig.add_trace(go.Scatter(x=[q[0] for q in p], y=[q[1] for q in p], mode="markers",
                                 marker=dict(color=c, size=6, line=dict(width=0)),
                                 xaxis=xa, yaxis=ya, showlegend=False, hoverinfo="skip", name=name))
    for name, (lx, ly) in zip(class_labels, labels):
        fig.add_annotation(x=lx, y=ly, xref=xa, yref=ya, text="<b>%s</b>" % name, showarrow=False,
                           font=dict(family=FONT, size=50, color="white"))

add_panel(train_cores, train_pts, label_pos_train, "x", "y")
add_panel(val_cores, val_pts, label_pos_val, "x2", "y2")

axis_common = dict(showgrid=False, zeroline=False, showline=True, mirror=True, linecolor="white",
                   linewidth=3.3, ticks="outside", ticklen=14.6, tickwidth=3.3, tickcolor="white",
                   automargin=False, tickfont=dict(family=FONT, size=41.67, color="white"))
x_title = lambda t: dict(text=t, font=dict(family=FONT, size=41.67, color="white"), standoff=16)

fig.update_layout(
    width=W, height=H, margin=dict(l=0, r=0, t=0, b=0),
    paper_bgcolor="black", plot_bgcolor="black", showlegend=False,
    xaxis=dict(domain=[190.5/W, 969/W], range=x_range, tickvals=x_ticks, ticktext=x_tick_text,
               anchor="y", title=x_title("Training"), **axis_common),
    xaxis2=dict(domain=[1063.5/W, 1842/W], range=x_range, tickvals=x_ticks, ticktext=x_tick_text,
                anchor="y2", title=x_title("Validation"), **axis_common),
    yaxis=dict(domain=[1-1263/H, 1-140/H], range=y_range, tickvals=y_ticks, ticktext=y_tick_text,
               anchor="x", ticklabelstandoff=4, **axis_common),
    yaxis2=dict(domain=[1-1263/H, 1-140/H], range=y_range, tickvals=y_ticks, ticktext=y_tick_text,
                showticklabels=False, anchor="x2", **axis_common),
)
fig.add_annotation(x=960/W, y=1-51/H, xref="paper", yref="paper", xanchor="center", yanchor="middle",
                   text="epoch=500", showarrow=False, font=dict(family=FONT, size=50, color="white"))

fig.write_html("out.html", config={"displayModeBar": False},
               post_script="document.body.style.margin='0';document.body.style.background='black';")
